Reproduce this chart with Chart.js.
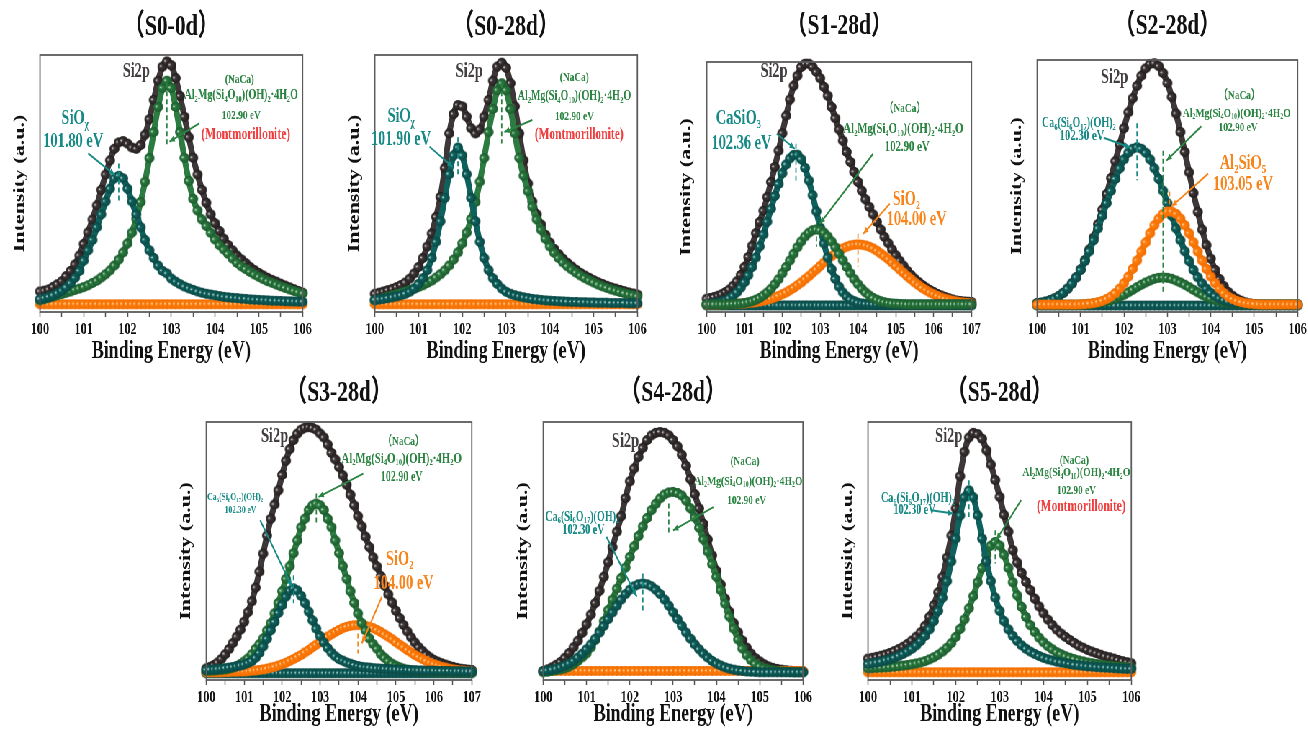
<!DOCTYPE html>
<html>
<head>
<meta charset="utf-8">
<script src="https://cdn.jsdelivr.net/npm/chart.js@4.4.1/dist/chart.umd.min.js"></script>
<style>
  html, body { margin: 0; padding: 0; background: #fff; overflow: hidden; }
  /* the original figure is squeezed horizontally, so the whole sheet is drawn wide and scaled */
  #fig { position: absolute; left: 0; top: 0; width: 1817px; height: 732px; transform: scaleX(0.72); transform-origin: 0 0; }
  #fig canvas { position: absolute; }
</style>
</head>
<body>
<div id="fig"></div>
<script>
const SQ = 0.72;
const SERIF = '"Liberation Serif", "Times New Roman", "Noto Sans CJK SC", serif';

// binding energy grids (eV)
const E6 = [100,100.1,100.2,100.3,100.4,100.5,100.6,100.7,100.8,100.9,
  101,101.1,101.2,101.3,101.4,101.5,101.6,101.7,101.8,101.9,
  102,102.1,102.2,102.3,102.4,102.5,102.6,102.7,102.8,102.9,
  103,103.1,103.2,103.3,103.4,103.5,103.6,103.7,103.8,103.9,
  104,104.1,104.2,104.3,104.4,104.5,104.6,104.7,104.8,104.9,
  105,105.1,105.2,105.3,105.4,105.5,105.6,105.7,105.8,105.9,
  106];
const E7 = [100,100.1,100.2,100.3,100.4,100.5,100.6,100.7,100.8,100.9,
  101,101.1,101.2,101.3,101.4,101.5,101.6,101.7,101.8,101.9,
  102,102.1,102.2,102.3,102.4,102.5,102.6,102.7,102.8,102.9,
  103,103.1,103.2,103.3,103.4,103.5,103.6,103.7,103.8,103.9,
  104,104.1,104.2,104.3,104.4,104.5,104.6,104.7,104.8,104.9,
  105,105.1,105.2,105.3,105.4,105.5,105.6,105.7,105.8,105.9,
  106,106.1,106.2,106.3,106.4,106.5,106.6,106.7,106.8,106.9,
  107];
const ticks6 = [100, 101, 102, 103, 104, 105, 106];
const ticks7 = [100, 101, 102, 103, 104, 105, 106, 107];

// (S0-0d)
const s00dEnv = [8,8.3,8.8,9.8,10.8,12,14,16,18.5,22,
  26.5,31,36,41.5,47.5,53.5,59,63.5,66,66.5,
  65.5,64,63.5,65,69,75,82.5,90,95.5,97.5,
  96,91,84,76,68,60,53.5,47.5,42.5,38,
  34.5,31.5,28.5,26,24,22,20.5,19,17.5,16.3,
  15.2,14.2,13.3,12.5,11.8,11,10.3,9.6,8.9,8.2,
  7.5];
const s00dSiOx = [5,5.4,5.9,6.5,7.3,8.3,9.6,11.2,13.3,16,
  20,24,28,33,38,43,48,52,53,52,
  48,43,38,33,28,24,21,18,16,15,
  13,11.8,10.8,9.9,9.2,8.6,8,7.5,7.1,6.8,
  6.5,6.2,5.9,5.7,5.5,5.4,5.2,5.1,4.9,4.8,
  4.7,4.6,4.5,4.4,4.35,4.3,4.2,4.15,4.1,4.05,
  4];
const s00dMont = [4.5,5,5.5,6,6.5,7,7.5,8,8.6,9.1,
  9.7,10.4,11.3,12.2,13.4,14.7,16.2,18.1,20.4,23.2,
  26.7,30.9,36.2,42.8,50.7,59.9,70,79.8,87.2,90,
  87.2,79.8,70,60,51,44,39.5,36,33.5,30.8,
  28.2,26,24.3,22.6,20.8,19.1,17.8,16.7,15.6,14.6,
  13.7,12.8,12,11.4,10.7,10,9.4,8.8,8.2,7.7,
  7.2];
const s00dBase = [3,3,3,3,3,3,3,3,3,3, 3,3,3,3,3,3,3,3,3,3, 3,3,3,3,3,3,3,3,3,3,
  3,3,3,3,3,3,3,3,3,3, 3,3,3,3,3,3,3,3,3,3, 3,3,3,3,3,3,3,3,3,3, 3];

// (S0-28d)
const s028dEnv = [7.1,7.5,8,8.5,9,9.7,10.5,11.5,13,15,
  17.5,21,25.5,30.5,37,44.8,56,69.5,77,80.5,
  80,76,71.5,69.5,71,76,82.5,90,95.5,97,
  95,89,80,69.5,59,50,43,38,34,30,
  27,24.5,22.5,20.7,19.1,17.7,16.4,15.2,14.2,13.3,
  12.4,11.6,10.9,10.2,9.6,9.1,8.6,8.1,7.6,7.2,
  6.8];
const s028dSiOx = [4.7,4.9,5.1,5.4,5.7,6.1,6.5,7.1,7.9,9.1,
  10.9,13.1,16.3,21,27.3,35.3,44.4,53.6,60.9,64,
  60.9,53.6,44.4,35.3,27.3,21,16.3,13.1,10.9,9.1,
  7.9,7.1,6.5,6.1,5.7,5.4,5.1,4.9,4.7,4.5,
  4.4,4.3,4.2,4.1,4,3.9,3.9,3.8,3.8,3.7,
  3.7,3.6,3.6,3.6,3.5,3.5,3.5,3.5,3.4,3.4,
  3.4];
const s028dMont = [4.5,5,5.5,6,6.5,7,7.5,8,8.6,9.1,
  9.7,10.4,11.3,12.2,13.4,14.7,16.2,18.1,20.4,23.2,
  26.7,30.9,36.2,42.8,50.7,59.9,70,79,86.3,89,
  86.3,79,69.5,60,53,47,41,36,32,28.5,
  25.5,23,21,19.3,17.8,16.5,15.3,14.2,13.2,12.3,
  11.5,10.7,10,9.4,8.8,8.3,7.8,7.3,6.9,6.5,
  6.1];
const s028dBase = [3,3,3,3,3,3,3,3,3,3, 3,3,3,3,3,3,3,3,3,3, 3,3,3,3,3,3,3,3,3,3,
  3,3,3,3,3,3,3,3,3,3, 3,3,3,3,3,3,3,3,3,3, 3,3,3,3,3,3,3,3,3,3, 3];

// (S1-28d)
const s1Env = [5.3,5.6,6,6.5,7.1,8,9,10.5,12.3,14.8,
  18,22,26.5,31.5,36,40.5,46,52,58,64.5,
  71.5,78.5,85,90.5,94.5,98,99.3,99.3,98,96,
  93.5,90,86.5,82,77.5,73,68.5,64,60,56,
  52,48.5,45,42,39,36,33,30,27.5,25,
  22.7,20.5,18.5,16.5,14.8,13.3,12,10.8,9.7,8.8,
  8,7.2,6.6,6,5.5,5,4.6,4.4,4.2,4.1,
  4];
const s1CaSiO3 = [3.2,3.3,3.5,3.8,4.1,4.7,5.5,6.5,7.9,9.7,
  11.9,14.7,18,21.8,26.2,31,36.1,41.3,46.4,51.2,
  55.5,59,61.4,62.8,62.9,61.1,57.6,52.6,46.7,40.2,
  33.7,27.4,21.8,17.1,13.2,10.1,7.8,6.2,5,4.3,
  3.7,3.4,3.2,3.1,3,3,3,3,3,3,
  3,3,3,3,3,3,3,3,3,3,
  3,3,3,3,3,3,3,3,3,3,
  3];
const s1Mont = [3,3,3,3,3,3,3.1,3.2,3.3,3.4,
  3.6,3.9,4.3,4.9,5.6,6.6,7.8,9.3,11.1,13.1,
  15.5,18,20.6,23.3,25.9,28.2,30.2,31.7,32.7,33,
  32.7,31.7,30.2,28.2,25.9,23.3,20.6,18,15.5,13.1,
  11.1,9.3,7.8,6.6,5.6,4.9,4.3,3.9,3.6,3.4,
  3.3,3.2,3.1,3,3,3,3,3,3,3,
  3,3,3,3,3,3,3,3,3,3,
  3];
const s1SiO2 = [3,3,3,3,3.1,3.1,3.2,3.2,3.3,3.3,
  3.4,3.6,3.7,3.9,4.2,4.5,4.9,5.3,5.8,6.4,
  7.1,7.8,8.7,9.6,10.7,11.8,13.1,14.3,15.7,17,
  18.4,19.8,21.1,22.3,23.4,24.5,25.4,26.1,26.6,26.9,
  27,26.9,26.6,26.1,25.4,24.5,23.4,22.3,21.1,19.8,
  18.4,17,15.7,14.3,13.1,11.8,10.7,9.6,8.7,7.8,
  7.1,6.4,5.8,5.3,4.9,4.5,4.2,3.9,3.7,3.6,
  3.4];
const s1Bg = [2.6,2.6,2.6,2.6,2.6,2.6,2.6,2.6,2.6,2.6, 2.6,2.6,2.6,2.6,2.6,2.6,2.6,2.6,2.6,2.6,
  2.6,2.6,2.6,2.6,2.6,2.6,2.6,2.6,2.6,2.6, 2.6,2.6,2.6,2.6,2.6,2.6,2.6,2.6,2.6,2.6,
  2.6,2.6,2.6,2.6,2.6,2.6,2.6,2.6,2.6,2.6, 2.6,2.6,2.6,2.6,2.6,2.6,2.6,2.6,2.6,2.6,
  2.6,2.6,2.6,2.6,2.6,2.6,2.6,2.6,2.6,2.6, 2.6];

// (S2-28d)
const s2Env = [3.6,3.8,4.2,4.8,5.5,6.5,7.8,9.5,11.6,14.1,
  17.3,21.1,25.4,30.3,35.7,41.6,48,54.5,61.3,68.1,
  74.8,81.2,86.9,92,96.1,99.1,100.9,101.2,100,97.2,
  93.1,87.5,80.7,73.2,65.1,56.8,48.4,40.7,33.5,27.2,
  21.7,17.1,13.4,10.5,8.2,6.6,5.4,4.6,3.9,3.5,
  3.2,3.1,3,3,3,3,3,3,3,3,
  3];
const s2Ca6 = [3.6,3.8,4.2,4.8,5.5,6.5,7.8,9.5,11.6,14.1,
  17.1,20.7,24.7,29.2,34,39.1,44.3,49.3,54.1,58.4,
  62.1,64.8,66.4,67,66.4,64.8,62.1,58.4,54.1,49.3,
  44.3,39.1,34,29.2,24.7,20.7,17.1,14.1,11.6,9.5,
  7.8,6.5,5.5,4.8,4.2,3.8,3.6,3.4,3.2,3.1,
  3,3,3,3,3,3,3,3,3,3,
  3];
const s2Mont = [3,3,3,3,3,3,3,3,3,3,
  3.1,3.2,3.3,3.5,3.7,4,4.4,4.9,5.5,6.2,
  7,8,9,10.1,11.1,12,12.8,13.5,13.9,14,
  13.9,13.5,12.8,12,11.1,10.1,9,8,7,6.2,
  5.5,4.9,4.4,4,3.7,3.5,3.3,3.2,3.1,3,
  3,3,3,3,3,3,3,3,3,3,
  3];
const s2Al2SiO5 = [3,3,3,3,3,3,3,3,3,3,
  3.1,3.2,3.4,3.6,4,4.5,5.3,6.3,7.7,9.5,
  11.7,14.4,17.5,20.9,24.6,28.3,32,35.3,38,39.9,
  40.9,40.9,39.9,38,35.3,32,28.3,24.6,20.9,17.5,
  14.4,11.7,9.5,7.7,6.3,5.3,4.5,4,3.6,3.4,
  3.2,3.1,3,3,3,3,3,3,3,3,
  3];
const s2Bg = [2.6,2.6,2.6,2.6,2.6,2.6,2.6,2.6,2.6,2.6, 2.6,2.6,2.6,2.6,2.6,2.6,2.6,2.6,2.6,2.6,
  2.6,2.6,2.6,2.6,2.6,2.6,2.6,2.6,2.6,2.6, 2.6,2.6,2.6,2.6,2.6,2.6,2.6,2.6,2.6,2.6,
  2.6,2.6,2.6,2.6,2.6,2.6,2.6,2.6,2.6,2.6, 2.6,2.6,2.6,2.6,2.6,2.6,2.6,2.6,2.6,2.6, 2.6];

// (S3-28d)
const s3Env = [4.5,5.1,5.8,6.8,8.2,10,12,14.3,16.8,19.5,
  22.6,26.3,30.5,35.8,42,49,56,62.5,68,73.5,
  79.5,85,89.5,93,95.5,97,97.8,98,97.7,97,
  95.5,94,91.3,88,85.5,82.5,79.3,75.7,71.8,67.7,
  63.5,59.5,55.5,51.5,47.5,44,40.3,36.6,33.2,30,
  26.8,24,21.3,18.8,16.5,14.5,12.7,11.2,9.8,8.7,
  7.8,7.1,6.5,6,5.5,5.1,4.7,4.4,4.2,4,
  3.9];
const s3Ca6 = [3.9,4,4.1,4.2,4.4,4.6,4.8,5,5.3,5.6,
  6,6.6,7.3,8.6,10.5,13,16,19.3,22.5,26,
  29,32.3,34.6,35.5,34.7,32.6,29.8,26.5,23.1,19.9,
  17,14.5,12.4,10.6,9.2,8.1,7.5,6.8,6.3,5.8,
  5.4,5.1,4.9,4.8,4.6,4.5,4.4,4.3,4.2,4.1,
  4.1,4,3.9,3.9,3.8,3.8,3.7,3.7,3.6,3.6,
  3.6,3.5,3.5,3.5,3.5,3.4,3.4,3.4,3.3,3.3,
  3.3];
const s3Mont = [3.5,3.6,3.7,3.8,3.9,4.1,4.4,4.8,5.4,6.2,
  7.2,8.4,10,12.1,13.9,16.1,19.2,22,25.8,29.9,
  34.4,39.2,44.1,49.2,54.1,59.2,62.5,65.9,67.7,68.4,
  67.7,65.9,62.5,59.2,54.1,49.2,44.1,39.2,34.4,29.9,
  25.8,22,19.2,16.1,13.9,12.1,10,8.6,7.3,6.3,
  5.5,4.9,4.4,4,3.8,3.6,3.5,3.4,3.4,3.3,
  3.3,3.2,3.2,3.2,3.1,3.1,3.1,3.1,3,3,
  3];
const s3SiO2 = [3,3,3,3,3,3.1,3.1,3.2,3.2,3.3,
  3.3,3.4,3.6,3.7,3.9,4.1,4.4,4.8,5.1,5.6,
  6.1,6.7,7.4,8.1,8.9,9.7,10.7,11.6,12.7,13.7,
  14.7,15.8,16.8,17.7,18.6,19.4,20.1,20.6,21,21.2,
  21.3,21.2,21,20.6,20.1,19.4,18.6,17.7,16.8,15.8,
  14.7,13.7,12.7,11.6,10.7,9.7,8.9,8.1,7.4,6.7,
  6.1,5.6,5.1,4.8,4.4,4.1,3.9,3.7,3.6,3.4,
  3.3];
const s3Bg = [2.6,2.6,2.6,2.6,2.6,2.6,2.6,2.6,2.6,2.6, 2.6,2.6,2.6,2.6,2.6,2.6,2.6,2.6,2.6,2.6,
  2.6,2.6,2.6,2.6,2.6,2.6,2.6,2.6,2.6,2.6, 2.6,2.6,2.6,2.6,2.6,2.6,2.6,2.6,2.6,2.6,
  2.6,2.6,2.6,2.6,2.6,2.6,2.6,2.6,2.6,2.6, 2.6,2.6,2.6,2.6,2.6,2.6,2.6,2.6,2.6,2.6,
  2.6,2.6,2.6,2.6,2.6,2.6,2.6,2.6,2.6,2.6, 2.6];

// (S4-28d)
const s4Env = [3.5,4.1,4.9,5.9,7,8.6,10.5,12.7,15.2,18.3,
  21.6,25.4,29.8,34.6,40,45.7,51.5,57.5,63.5,70.5,
  77,82,86.5,90,93,94.8,95.8,96.1,95.8,94.8,
  93,90.6,87.3,83,77.8,72,66.5,60.5,54.5,48.3,
  42.3,37,31.5,26.5,22,18.5,15.3,12.5,10.2,8.5,
  7.2,6.1,5.3,4.7,4.3,4,3.8,3.6,3.5,3.4,
  3.3];
const s4Ca6 = [3.5,3.7,4,4.4,4.9,5.6,6.4,7.4,8.7,10.2,
  11.9,13.8,16,18.4,21,23.6,26.2,28.8,31.2,33.3,
  35,36.3,37.1,37.4,37.1,36.3,35,33.3,31.2,28.8,
  26.2,23.6,21,18.4,16,13.8,11.9,10.2,8.7,7.4,
  6.4,5.6,4.9,4.4,4,3.7,3.5,3.3,3.2,3.1,
  3,3,3,3,3,3,3,3,3,3,
  3];
const s4Mont = [3,3.2,3.5,3.8,4.1,4.5,5.2,6.2,7.4,8.8,
  10.3,12.6,15.5,18.8,22.8,27.1,31.2,35.4,39.5,43.6,
  47.7,51.8,55.8,59.5,62.8,65.8,68.3,70.4,71.9,72.7,
  72.9,72.5,71.5,69.5,66.5,63,59,54.5,49.8,44.9,
  40,34.8,29.6,24.6,19.9,15.7,12.2,9.6,7.7,6.3,
  5.3,4.6,4.1,3.8,3.5,3.3,3.2,3.1,3,3,
  3];
const s4Base = [3.5,3.5,3.5,3.5,3.5,3.5,3.5,3.5,3.5,3.5, 3.5,3.5,3.5,3.5,3.5,3.5,3.5,3.5,3.5,3.5,
  3.5,3.5,3.5,3.5,3.5,3.5,3.5,3.5,3.5,3.5, 3.5,3.5,3.5,3.5,3.5,3.5,3.5,3.5,3.5,3.5,
  3.5,3.5,3.5,3.5,3.5,3.5,3.5,3.5,3.5,3.5, 3.5,3.5,3.5,3.5,3.5,3.5,3.5,3.5,3.5,3.5, 3.5];

// (S5-28d)
const s5Env = [8.3,8.6,9,9.4,9.9,10.5,11.2,12,12.9,14,
  15.3,16.8,18.5,21,24.5,29,34,40,47.5,56,
  66.5,79,88.5,94,95.8,95.3,93.5,89,83.5,77.5,
  71,64,57.5,50.3,45.5,41.5,38,34.8,31.5,28.5,
  25.8,23.4,21.3,19.5,18,16.7,15.5,14.4,13.3,12.5,
  11.7,11,10.4,9.8,9.2,8.8,8.3,7.8,7.3,6.9,
  6.5];
const s5Ca6 = [6.2,6.5,6.8,7.1,7.6,8,8.6,9.3,10.1,11,
  12.1,13.4,15.1,17.1,19.6,22.8,26.8,31.9,38.3,46,
  54.8,63.8,70.8,73.5,70.8,63.8,54.8,46,38.3,31.9,
  26.8,22.8,19.6,17.1,15.1,13.4,12.1,11,10.1,9.3,
  8.6,8,7.6,7.1,6.8,6.5,6.2,5.9,5.7,5.5,
  5.3,5.2,5,4.9,4.8,4.7,4.6,4.5,4.4,4.3,
  4.3];
const s5Mont = [4.5,4.6,4.7,4.8,4.9,5,5.2,5.4,5.6,5.8,
  6.1,6.4,6.8,7.3,8,8.8,9.8,11,12.5,14.3,
  16.7,19.8,23.5,27.8,32.5,37.9,43.4,48.5,52.1,53.5,
  52.1,48.5,43.4,37.9,32.8,28.3,24.4,21.2,18.6,16.4,
  14.6,13.1,11.9,10.8,10,9.2,8.6,8.1,7.6,7.2,
  6.8,6.5,6.2,6,5.8,5.6,5.4,5.2,5.1,5,
  4.8];
const s5Base = [3,3,3,3,3,3,3,3,3,3, 3,3,3,3,3,3,3,3,3,3, 3,3,3,3,3,3,3,3,3,3,
  3,3,3,3,3,3,3,3,3,3, 3,3,3,3,3,3,3,3,3,3, 3,3,3,3,3,3,3,3,3,3, 3];

// styles
const COL = {
  env:    { base: '#3e3738', hi: '#f2eeee', edge: '#221c1d' },
  teal:   { base: '#0f615d', hi: '#d8f0ed', edge: '#0a4744' },
  green:  { base: '#2c7b41', hi: '#ddf2e2', edge: '#1b5a2c' },
  orange: { base: '#ff7f0e', hi: '#ffe6c8', edge: '#f06d00' }
};
const SI = '#444040', TL = '#178a86', GR = '#2b8442', OR = '#f7851c', RD = '#ef3e3e';
const FORMULA = 'Al_{2}Mg(Si_{4}O_{10})(OH)_{2}·4H_{2}O';
const CA6 = 'Ca_{6}(Si_{6}O_{17})(OH)_{2}';
const BEAD_R = 5;

// a small shaded ball, pre-stretched so it is round after the squeeze
function bead(c, r) {
  const cv = document.createElement('canvas');
  cv.width = Math.ceil(2 * r / SQ) + 2;
  cv.height = 2 * r + 2;
  const g = cv.getContext('2d');
  g.translate(cv.width / 2, cv.height / 2);
  g.scale(1 / SQ, 1);
  const grad = g.createRadialGradient(-r * 0.45, -r * 0.15, 0, 0, 0, r);
  grad.addColorStop(0, c.hi);
  grad.addColorStop(0.3, c.base);
  grad.addColorStop(1, c.edge);
  g.fillStyle = grad;
  g.beginPath();
  g.arc(0, 0, r, 0, Math.PI * 2);
  g.fill();
  return cv;
}
const BEADS = {};
Object.keys(COL).forEach(k => { BEADS[k] = bead(COL[k], BEAD_R); });

const lab = (t, x, y, c, s, w) => ({ t, x, y, c, s, w: w || 'bold' });

const panels = [
  { title: '（S0-0d）', ty: 27, box: [40, 55, 303, 312], xH: 55, xMax: 106, yMax: 100, energy: E6, ticks: ticks6,
    series: [['teal', s00dSiOx], ['green', s00dMont], ['orange', s00dBase], ['env', s00dEnv]],
    labels: [lab('Si2p', 102.2, 93.5, SI, 20), lab('SiO_{χ}', 100.8, 75, TL, 20), lab('101.80 eV', 100.76, 66.3, TL, 20),
      lab('(NaCa)', 104.56, 90.3, GR, 13), lab(FORMULA, 104.6, 84.4, GR, 14), lab('102.90 eV', 104.6, 76.5, GR, 13),
      lab('(Montmorillonite)', 104.7, 69, RD, 16)],
    pointers: [[101.1, 61.7, 101.71, 53.3, TL], [103.64, 73.4, 102.96, 66.3, GR]],
    dashes: [[101.8, 57.8, 42.3, TL], [102.9, 89, 64.3, GR]] },
  { title: '（S0-28d）', ty: 27, box: [375, 55, 638, 312], xH: 55, xMax: 106, yMax: 100, energy: E6, ticks: ticks6,
    series: [['teal', s028dSiOx], ['green', s028dMont], ['orange', s028dBase], ['env', s028dEnv]],
    labels: [lab('Si2p', 102.16, 93.5, SI, 20), lab('SiO_{χ}', 100.6, 76, TL, 20), lab('101.90 eV', 100.6, 66.9, TL, 20),
      lab('(NaCa)', 104.56, 91, GR, 13), lab(FORMULA, 104.56, 83.8, GR, 14), lab('102.90 eV', 104.56, 76, GR, 13),
      lab('(Montmorillonite)', 104.67, 68.8, RD, 16)],
    pointers: [[101.25, 64.3, 101.78, 56.5, TL], [103.6, 74.7, 102.96, 70, GR]],
    dashes: [[101.9, 68, 52.6, TL], [102.9, 89, 65.6, GR]] },
  { title: '（S1-28d）', ty: 26, box: [707, 62, 972, 312], xH: 55, xMax: 107, yMax: 100, energy: E7, ticks: ticks7,
    series: [['green', s1Mont], ['teal', s1CaSiO3], ['orange', s1SiO2], ['teal', s1Bg], ['env', s1Env]],
    labels: [lab('Si2p', 101.78, 96, SI, 20), lab('CaSiO_{3}', 100.84, 77.3, TL, 20), lab('102.36 eV', 100.92, 67.3, TL, 20),
      lab('（NaCa）', 105.24, 81.3, GR, 13), lab(FORMULA, 105.2, 73.3, GR, 15), lab('102.90 eV', 105.3, 66, GR, 15),
      lab('SiO_{2}', 105.28, 44.7, OR, 20), lab('104.00 eV', 105.55, 36.7, OR, 20)],
    pointers: [[101.85, 71.3, 102.33, 65.3, TL], [104.4, 63.3, 102.99, 35.3, GR], [104.84, 43.3, 104.14, 31.3, OR]],
    dashes: [[102.36, 67.3, 51.3, TL], [102.9, 36.7, 26, GR], [104, 31.3, 18, OR]] },
  { title: '（S2-28d）', ty: 26, box: [1037, 60, 1298, 312], xH: 55, xMax: 106, yMax: 102.5, energy: E6, ticks: ticks6,
    series: [['orange', s2Al2SiO5], ['teal', s2Ca6], ['green', s2Mont], ['teal', s2Bg], ['env', s2Env]],
    labels: [lab('Si2p', 101.78, 95.4, SI, 20), lab(CA6, 100.96, 76.8, TL, 14), lab('102.30 eV', 101.03, 71.5, TL, 15),
      lab('（NaCa）', 104.66, 88, GR, 13), lab(FORMULA, 104.6, 80.8, GR, 13.5), lab('102.90 eV', 104.63, 74.8, GR, 13),
      lab('Al_{2}SiO_{5}', 104.74, 60.3, OR, 20), lab('103.05 eV', 104.74, 51.7, OR, 20)],
    pointers: [[101.53, 70.9, 102.14, 66.9, TL], [103.78, 75.5, 102.98, 61.6, GR], [103.94, 56.3, 103.1, 43, OR]],
    dashes: [[102.3, 76.8, 53.6, TL], [102.9, 65.6, 7.3, GR], [103.05, 49, 41.7, OR]] },
  { title: '（S3-28d）', ty: 393, box: [206, 422, 472, 680], xH: 50, xMax: 107, yMax: 100, energy: E7, ticks: ticks7,
    series: [['teal', s3Ca6], ['green', s3Mont], ['orange', s3SiO2], ['teal', s3Bg], ['env', s3Env]],
    labels: [lab('Si2p', 101.8, 94.2, SI, 20), lab(CA6, 100.76, 71, TL, 10.5), lab('102.30 eV', 100.9, 65.8, TL, 10.5),
      lab('（NaCa）', 105.2, 92.3, GR, 13), lab(FORMULA, 105.15, 85.8, GR, 15), lab('102.90 eV', 105.15, 78.7, GR, 14),
      lab('SiO_{2}', 105.1, 46.5, OR, 20), lab('104.00 eV', 105.2, 37.4, OR, 20)],
    pointers: [[101.42, 61.9, 102.26, 36.1, TL], [104.14, 80, 102.96, 71, GR], [104.63, 32.3, 104.1, 14.2, OR]],
    dashes: [[102.3, 40.6, 29.7, TL], [102.9, 72.3, 60.6, GR], [104, 18, 10.3, OR]] },
  { title: '（S4-28d）', ty: 393, box: [543, 422, 803, 680], xH: 50, xMax: 106, yMax: 100, energy: E6, ticks: ticks6,
    series: [['teal', s4Ca6], ['green', s4Mont], ['orange', s4Base], ['env', s4Env]],
    labels: [lab('Si2p', 101.9, 92.3, SI, 20), lab(CA6, 100.9, 63.2, TL, 14), lab('102.30 eV', 100.93, 58, TL, 14),
      lab('(NaCa)', 104.66, 84.5, GR, 13), lab(FORMULA, 104.74, 77, GR, 13.5), lab('102.90 eV', 104.7, 69.5, GR, 13)],
    pointers: [[101.46, 55.5, 102.16, 32.3, TL], [103.93, 67, 103.0, 58, GR]],
    dashes: [[102.3, 41.3, 25.8, TL], [102.9, 68.4, 56.8, GR]] },
  { title: '（S5-28d）', ty: 393, box: [868, 422, 1132, 680], xH: 50, xMax: 106, yMax: 100, energy: E6, ticks: ticks6,
    series: [['teal', s5Ca6], ['green', s5Mont], ['orange', s5Base], ['env', s5Env]],
    labels: [lab('Si2p', 101.84, 94.2, SI, 20), lab(CA6, 101.14, 70.3, TL, 14), lab('102.30 eV', 101.06, 65.8, TL, 14),
      lab('(NaCa)', 104.7, 85.2, GR, 13), lab(FORMULA, 104.75, 80.3, GR, 13.5), lab('102.90 eV', 104.75, 73.5, GR, 13),
      lab('(Montmorillonite)', 104.86, 67, RD, 16)],
    pointers: [[101.44, 65.8, 101.94, 64.5, TL], [103.49, 69.7, 102.92, 54.2, GR]],
    dashes: [[102.3, 77.4, 63.2, TL], [102.9, 58, 45.2, GR]] }
];

// text with _{...} subscripts, centred on (px, py)
function richParts(str) {
  const out = [], re = /_\{([^}]*)\}/g;
  let last = 0, m;
  while ((m = re.exec(str))) {
    if (m.index > last) out.push([str.slice(last, m.index), false]);
    out.push([m[1], true]);
    last = re.lastIndex;
  }
  if (last < str.length) out.push([str.slice(last), false]);
  return out;
}
function drawRich(ctx, n, px, py) {
  const ps = richParts(n.t);
  const big = `${n.w} ${n.s}px ${SERIF}`, small = `${n.w} ${Math.round(n.s * 0.62)}px ${SERIF}`;
  let w = 0;
  ps.forEach(p => { ctx.font = p[1] ? small : big; w += ctx.measureText(p[0]).width; });
  let x = px - w / 2;
  ctx.fillStyle = n.c;
  ctx.textAlign = 'left';
  ctx.textBaseline = 'middle';
  ps.forEach(p => {
    ctx.font = p[1] ? small : big;
    ctx.fillText(p[0], x, p[1] ? py + n.s * 0.3 : py);
    x += ctx.measureText(p[0]).width;
  });
}
function arrow(ctx, x1, y1, x2, y2, c) {
  ctx.strokeStyle = c; ctx.fillStyle = c; ctx.lineWidth = 2; ctx.setLineDash([]);
  ctx.beginPath(); ctx.moveTo(x1, y1); ctx.lineTo(x2, y2); ctx.stroke();
  const a = Math.atan2(y2 - y1, x2 - x1), h = 8;
  ctx.beginPath();
  ctx.moveTo(x2, y2);
  ctx.lineTo(x2 - h * Math.cos(a - 0.4), y2 - h * Math.sin(a - 0.4));
  ctx.lineTo(x2 - h * Math.cos(a + 0.4), y2 - h * Math.sin(a + 0.4));
  ctx.closePath(); ctx.fill();
}

function decor(p) {
  return {
    id: 'decor',
    afterDatasetsDraw(chart) {
      const { ctx, chartArea: a, scales: { x, y } } = chart;
      const X = v => x.getPixelForValue(v), Y = v => y.getPixelForValue(v);
      ctx.save();
      ctx.strokeStyle = '#5b5b5b';
      ctx.lineWidth = 1.8;
      ctx.strokeRect(a.left, a.top, a.right - a.left, a.bottom - a.top);
      p.dashes.forEach(([e, y1, y2, c]) => {
        ctx.strokeStyle = c; ctx.lineWidth = 1.8; ctx.setLineDash([5, 3]);
        ctx.beginPath(); ctx.moveTo(X(e), Y(y1)); ctx.lineTo(X(e), Y(y2)); ctx.stroke();
      });
      ctx.setLineDash([]);
      p.pointers.forEach(([x1, y1, x2, y2, c]) => arrow(ctx, X(x1), Y(y1), X(x2), Y(y2), c));
      p.labels.forEach(n => drawRich(ctx, n, X(n.x), Y(n.y)));
      ctx.font = `bold 30px ${SERIF}`;
      ctx.fillStyle = '#111';
      ctx.textAlign = 'center';
      ctx.textBaseline = 'middle';
      ctx.fillText(p.title, (a.left + a.right) / 2, a.top - (p.box[1] - p.ty));
      ctx.restore();
    }
  };
}

const fig = document.getElementById('fig');
const padT = 50, yW = 40, padR = 10;

panels.forEach(p => {
  const [l, t, r, b] = p.box;
  const cw = Math.round((r - l + yW + padR) / SQ), ch = padT + (b - t) + p.xH;
  const cv = document.createElement('canvas');
  cv.width = cw; cv.height = ch;
  cv.style.left = ((l - yW) / SQ) + 'px';
  cv.style.top = (t - padT) + 'px';
  cv.style.width = cw + 'px';
  cv.style.height = ch + 'px';
  fig.appendChild(cv);

  new Chart(cv, {
    type: 'line',
    data: {
      datasets: p.series.map(([k, vals]) => ({
        data: p.energy.map((e, i) => ({ x: e, y: vals[i] })),
        borderColor: COL[k].base,
        backgroundColor: COL[k].base,
        borderWidth: 8,
        pointStyle: BEADS[k],
        pointRadius: BEAD_R,
        pointHoverRadius: BEAD_R,
        cubicInterpolationMode: 'monotone',
        clip: false
      }))
    },
    options: {
      responsive: false,
      animation: false,
      events: [],
      layout: { padding: { top: padT, right: padR / SQ, left: 0, bottom: 0 } },
      plugins: { legend: { display: false }, tooltip: { enabled: false } },
      scales: {
        x: {
          type: 'linear', min: 100, max: p.xMax,
          afterFit: s => { s.height = p.xH; },
          ticks: {
            stepSize: 0.5, autoSkip: false, maxRotation: 0, padding: 2, color: '#111',
            font: { family: SERIF, size: 17, weight: 'bold' },
            callback: v => p.ticks.includes(v) ? String(v) : ''
          },
          grid: { display: true, drawOnChartArea: false, drawTicks: true, tickLength: 5, color: '#555', tickWidth: 1.5 },
          border: { display: false },
          title: { display: true, text: 'Binding Energy (eV)', color: '#111',
            font: { family: SERIF, size: 25, weight: 'bold' }, padding: { top: 0, bottom: 0 } }
        },
        y: {
          min: 0, max: p.yMax,
          afterFit: s => { s.width = yW / SQ; },
          ticks: { display: false },
          grid: { display: false },
          border: { display: false },
          title: { display: true, text: 'Intensity (a.u.)', color: '#111',
            font: { family: SERIF, size: 22, weight: 'bold' }, padding: { top: 14, bottom: 0 } }
        }
      }
    },
    plugins: [decor(p)]
  });
});
</script>
</body>
</html>
